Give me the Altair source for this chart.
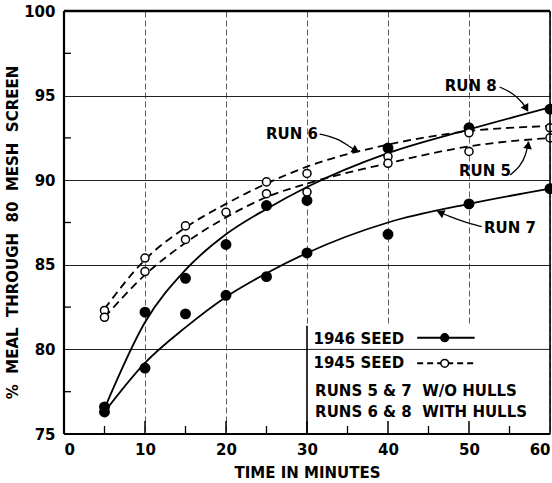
import altair as alt
import pandas as pd

# ---------------- data ----------------
times = [5, 10, 15, 20, 25, 30, 40, 50, 60]
run8_obs = [76.6, 82.2, 84.2, 86.2, 88.5, 88.8, 91.9, 93.1, 94.2]   # 1946 seed, with hulls
run7_obs = [76.3, 78.9, 82.1, 83.2, 84.3, 85.7, 86.8, 88.6, 89.5]   # 1946 seed, w/o hulls
run6_obs = [82.3, 85.4, 87.3, 88.1, 89.9, 90.4, 91.4, 92.8, 93.1]   # 1945 seed, with hulls
run5_obs = [81.9, 84.6, 86.5, None, 89.2, 89.3, 91.0, 91.7, 92.5]   # 1945 seed, w/o hulls

curve_t = [5, 10, 15, 20, 25, 30, 40, 50, 60]
run8_fit = [76.5, 81.6, 84.7, 86.8, 88.3, 89.6, 91.6, 93.0, 94.3]
run7_fit = [76.3, 79.2, 81.3, 83.1, 84.5, 85.7, 87.5, 88.6, 89.5]
run6_fit = [82.4, 85.3, 87.2, 88.6, 89.8, 90.8, 92.1, 92.9, 93.2]
run5_fit = [81.9, 84.4, 86.3, 87.8, 89.0, 89.8, 91.0, 92.0, 92.5]

x_ticks = [0, 10, 20, 30, 40, 50, 60]
y_ticks = [75, 80, 85, 90, 95, 100]
x_minor = [5, 15, 25, 35, 45, 55]
x_major_inner = [10, 20, 30, 40, 50]
y_minor = [77.5, 82.5, 87.5, 92.5, 97.5]

# annotations (label, x, y)
ann_labels = ["RUN 8", "RUN 6", "RUN 5", "RUN 7"]
ann_x = [50.2, 28.15, 51.98, 55.06]
ann_y = [95.57, 92.73, 90.54, 87.2]

# arrow curves
arrow_run = ["8"] * 4 + ["6"] * 4 + ["5"] * 4 + ["7"] * 4
arrow_x = [53.78, 55.43, 56.67, 57.16,
           31.56, 33.70, 35.31, 36.17,
           55.1, 56.30, 57.04, 57.32,
           51.57, 49.30, 47.65, 46.21]
arrow_y = [95.51, 95.15, 94.56, 94.15,
           92.73, 92.49, 91.96, 91.73,
           90.31, 90.80, 91.49, 92.28,
           87.25, 87.55, 87.84, 88.14]
head_x = [57.0, 35.9, 57.28, 46.6]
head_y = [94.3, 91.8, 92.0, 88.05]
head_angle = [150, 120, 10, 293]

# legend
legend_lines = ["1946 SEED", "1945 SEED", "RUNS 5 & 7\u00a0\u00a0W/O HULLS", "RUNS 6 & 8\u00a0\u00a0WITH HULLS"]
legend_x = [30.8, 30.8, 31.0, 31.0]
legend_y = [80.62, 79.18, 77.55, 76.3]
legend_sample_x = [43.6, 50.7]
legend_solid_y = 80.69
legend_dash_y = 79.18
legend_marker_x = 47.0

W, H = 486, 423
FONT = "DejaVu Sans"

xs = alt.Scale(domain=[0, 60], nice=False, zero=False)
ys = alt.Scale(domain=[75, 100], nice=False, zero=False)

X_AXIS = alt.Axis(values=x_ticks, grid=True, gridColor="#333", gridWidth=0.8,
                  gridDash=[6, 3], ticks=False, tickSize=0, domain=False,
                  labelPadding=8, titlePadding=8, labelFlush=True)
Y_AXIS = alt.Axis(values=y_ticks, grid=True, gridColor="#222", gridWidth=1,
                  ticks=False, tickSize=0, domain=False, labelPadding=9,
                  titlePadding=3, titleY=221)
X_TITLE = "TIME IN MINUTES"
Y_TITLE = "%\u00a0\u00a0MEAL\u00a0\u00a0THROUGH\u00a0\u00a080\u00a0\u00a0MESH\u00a0\u00a0SCREEN"


def X(field="x"):
    return alt.X(f"{field}:Q", scale=xs, axis=X_AXIS, title=X_TITLE)


def Y(field="y"):
    return alt.Y(f"{field}:Q", scale=ys, axis=Y_AXIS, title=Y_TITLE)


# ---------------- tables ----------------
obs_rows = []
for name, vals, seed in [("8", run8_obs, "1946"), ("7", run7_obs, "1946"),
                         ("6", run6_obs, "1945"), ("5", run5_obs, "1945")]:
    for t, v in zip(times, vals):
        if v is not None:
            obs_rows.append({"x": t, "y": v, "run": name, "seed": seed})
obs = pd.DataFrame(obs_rows)

fit_rows = []
for name, vals, seed in [("8", run8_fit, "1946"), ("7", run7_fit, "1946"),
                         ("6", run6_fit, "1945"), ("5", run5_fit, "1945")]:
    for t, v in zip(curve_t, vals):
        fit_rows.append({"x": t, "y": v, "run": name, "seed": seed})
fit = pd.DataFrame(fit_rows)

# ---------------- layers ----------------
grid_base = alt.Chart(pd.DataFrame({"x": [0, 60], "y": [75, 100]})).mark_point(opacity=0).encode(
    x=X(), y=Y())

# legend white-out area and its borders
legend_bg = alt.Chart(pd.DataFrame({"x": [30], "x2": [60], "y": [75], "y2": [81.4]})).mark_rect(
    fill="white").encode(x=X(), x2="x2:Q", y=Y(), y2="y2:Q")
legend_hline = alt.Chart(pd.DataFrame({"x": [30], "x2": [60], "y": [80]})).mark_rule(
    color="#222", strokeWidth=1).encode(x=X(), x2="x2:Q", y=Y())
legend_vline = alt.Chart(pd.DataFrame({"x": [30], "y": [75], "y2": [81.4]})).mark_rule(
    color="black", strokeWidth=1.6).encode(x=X(), y=Y(), y2="y2:Q")

# inner ticks
xminor = alt.Chart(pd.DataFrame({"x": x_minor})).mark_rule(color="black", strokeWidth=1.3).encode(
    x=X(), y=alt.value(H), y2=alt.value(H - 8))
xmajor = alt.Chart(pd.DataFrame({"x": x_major_inner})).mark_rule(color="black", strokeWidth=1.5).encode(
    x=X(), y=alt.value(H), y2=alt.value(H - 13))
yminor = alt.Chart(pd.DataFrame({"y": y_minor})).mark_rule(color="black", strokeWidth=1.3).encode(
    y=Y(), x=alt.value(0), x2=alt.value(7))

# fitted curves
solid_fit = alt.Chart(fit[fit.seed == "1946"]).mark_line(
    color="black", strokeWidth=1.8, interpolate="monotone").encode(
    x=X(), y=Y(), detail="run:N")
dash_fit = alt.Chart(fit[fit.seed == "1945"]).mark_line(
    color="black", strokeWidth=1.8, strokeDash=[8, 5], interpolate="monotone").encode(
    x=X(), y=Y(), detail="run:N")

# observed points
filled_pts = alt.Chart(obs[obs.seed == "1946"]).mark_point(
    shape="circle", filled=True, fill="black", stroke="black", size=80, opacity=1).encode(
    x=X(), y=Y())
open_pts = alt.Chart(obs[obs.seed == "1945"]).mark_point(
    shape="circle", filled=True, fill="white", stroke="black", strokeWidth=1.5, size=65, opacity=1).encode(
    x=X(), y=Y())

# annotations
ann = alt.Chart(pd.DataFrame({"x": ann_x, "y": ann_y, "t": ann_labels})).mark_text(
    font=FONT, fontWeight="bold", fontSize=15, color="black", align="center", baseline="middle").encode(
    x=X(), y=Y(), text="t:N")
arrows = alt.Chart(pd.DataFrame({"x": arrow_x, "y": arrow_y, "run": arrow_run,
                                 "o": list(range(len(arrow_x)))})).mark_line(
    color="black", strokeWidth=1.3, interpolate="basis").encode(
    x=X(), y=Y(), detail="run:N", order="o:Q")
heads = alt.Chart(pd.DataFrame({"x": head_x, "y": head_y, "a": head_angle})).mark_point(
    shape="triangle", filled=True, fill="black", stroke="black", size=28, opacity=1).encode(
    x=X(), y=Y(), angle=alt.Angle("a:Q", scale=None))

# legend contents
leg_text = alt.Chart(pd.DataFrame({"x": legend_x, "y": legend_y, "t": legend_lines})).mark_text(
    font=FONT, fontWeight="bold", fontSize=15, color="black", align="left", baseline="middle").encode(
    x=X(), y=Y(), text="t:N")
leg_solid = alt.Chart(pd.DataFrame({"x": legend_sample_x, "y": [legend_solid_y] * 2})).mark_line(
    color="black", strokeWidth=2).encode(x=X(), y=Y())
leg_dash = alt.Chart(pd.DataFrame({"x": legend_sample_x, "y": [legend_dash_y] * 2})).mark_line(
    color="black", strokeWidth=1.8, strokeDash=[6, 4]).encode(x=X(), y=Y())
leg_pts = alt.Chart(pd.DataFrame({"x": [legend_marker_x, legend_marker_x],
                                  "y": [legend_solid_y, legend_dash_y],
                                  "f": ["black", "white"]})).mark_point(
    shape="circle", filled=True, stroke="black", strokeWidth=1.5, size=60, opacity=1).encode(
    x=X(), y=Y(), fill=alt.Fill("f:N", scale=None))

# frame
frame_top = alt.Chart(pd.DataFrame({"k": [0]})).mark_rule(color="black", strokeWidth=2.6).encode(
    x=alt.value(0), x2=alt.value(W), y=alt.value(0))
frame_bot = alt.Chart(pd.DataFrame({"k": [0]})).mark_rule(color="black", strokeWidth=2.2).encode(
    x=alt.value(0), x2=alt.value(W), y=alt.value(H))
frame_left = alt.Chart(pd.DataFrame({"k": [0]})).mark_rule(color="black", strokeWidth=2.2).encode(
    x=alt.value(0), y=alt.value(0), y2=alt.value(H))
frame_right = alt.Chart(pd.DataFrame({"k": [0]})).mark_rule(color="black", strokeWidth=1.6).encode(
    x=alt.value(W), y=alt.value(0), y2=alt.value(H))

chart = alt.layer(
    grid_base, legend_bg, legend_hline, legend_vline,
    xminor, xmajor, yminor,
    solid_fit, dash_fit, filled_pts, open_pts,
    arrows, heads, ann,
    leg_solid, leg_dash, leg_pts, leg_text,
    frame_top, frame_bot, frame_left, frame_right,
).properties(
    width=W, height=H,
    autosize=alt.AutoSizeParams(type="none"),
    padding={"left": 64, "top": 11, "right": 2, "bottom": 49},
    background="white",
).configure_view(stroke=None).configure_axis(
    labelFont=FONT, labelFontWeight="bold", labelFontSize=15, labelColor="black",
    titleFont=FONT, titleFontWeight="bold", titleFontSize=15, titleColor="black",
)

chart.save("out.html", embed_options={"renderer": "svg", "actions": False})
